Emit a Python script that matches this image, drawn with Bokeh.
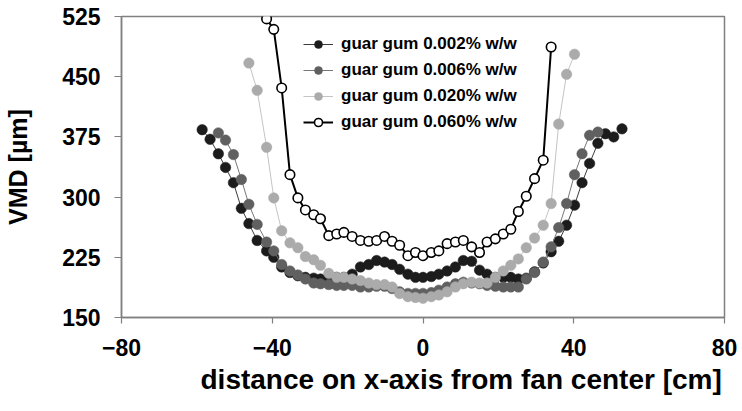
from bokeh.plotting import figure
from bokeh.models import Legend, LegendItem, FixedTicker, Range1d, ColumnDataSource, Title
from bokeh.embed import file_html
from bokeh.resources import INLINE

# distance on x-axis from fan center [cm]
x_002 = [-58.6, -56.5, -54.3, -52.4, -50.3, -48.2, -46.2, -44.0, -41.5, -39.6, -37.5, -35.3, -33.2,
         -31.2, -29.0, -27.2, -25.0, -22.9, -21.0, -18.8, -16.6, -14.4, -12.3, -10.2, -8.2, -6.2,
         -4.0, -2.0, 0.0, 2.2, 4.2, 6.4, 8.6, 10.7, 12.9, 15.0, 17.0, 19.2, 21.3, 23.3, 25.3, 27.4,
         29.6, 31.9, 34.0, 36.0, 38.1, 40.2, 42.2, 44.2, 46.4, 48.4, 50.6, 52.8]
vmd_002 = [384, 372, 354, 337, 318, 286, 267, 246, 233, 225, 213, 206, 202, 200, 199, 198, 199, 200,
           200, 204, 213, 216, 221, 219, 216, 210, 204, 200, 200, 201, 204, 208, 213, 221, 220, 209,
           204, 200, 200, 200, 198, 199, 207, 218, 232, 245, 265, 290, 318, 342, 367, 379, 375, 385]

x_006 = [-54.3, -52.4, -50.3, -48.2, -46.2, -44.0, -41.5, -39.6, -37.5, -35.3, -33.2, -31.2, -29.0,
         -27.2, -25.0, -22.9, -21.0, -18.8, -16.6, -14.4, -12.3, -10.2, -8.2, -6.2, -4.0, -2.0, 0.0,
         2.2, 4.2, 6.4, 8.6, 10.7, 12.9, 15.0, 17.0, 19.2, 21.3, 23.3, 25.3, 27.4, 29.6, 31.9, 34.0,
         36.0, 38.1, 40.2, 42.2, 44.2, 46.4]
vmd_006 = [380, 371, 353, 322, 291, 266, 244, 233, 216, 208, 203, 198, 193, 192, 191, 190, 190, 190,
           188, 188, 189, 189, 186, 182, 180, 180, 180, 181, 184, 188, 192, 194, 193, 192, 190, 189,
           188, 188, 188, 198, 206, 219, 238, 262, 292, 328, 354, 377, 381]

x_020 = [-46.2, -44.0, -41.5, -39.6, -37.5, -35.3, -33.2, -31.2, -29.0, -27.2, -25.0, -22.9, -21.0,
         -18.8, -16.6, -14.4, -12.3, -10.2, -8.2, -6.2, -4.0, -2.0, 0.0, 2.2, 4.2, 6.4, 8.6, 10.7,
         12.9, 15.0, 17.0, 19.2, 21.3, 23.3, 25.3, 27.4, 29.6, 31.9, 34.0, 36.0, 38.1, 40.2]
vmd_020 = [467, 433, 362, 299, 258, 243, 237, 226, 222, 215, 205, 200, 200, 198, 196, 193, 191, 191,
           188, 180, 176, 175, 174, 176, 178, 182, 188, 192, 194, 193, 193, 200, 208, 215, 223, 237,
           249, 265, 292, 391, 453, 478]

x_060 = [-41.5, -39.6, -37.5, -35.3, -33.2, -31.2, -29.0, -27.2, -25.0, -22.9, -21.0, -18.8, -16.6,
         -14.4, -12.3, -10.2, -8.2, -6.2, -4.0, -2.0, 0.0, 2.2, 4.2, 6.4, 8.6, 10.7, 12.9, 15.0, 17.0,
         19.2, 21.3, 23.3, 25.3, 27.4, 29.6, 31.9, 34.0]
vmd_060 = [522, 509, 436, 328, 299, 284, 278, 273, 252, 254, 256, 251, 246, 245, 246, 251, 245, 240,
           227, 231, 227, 231, 233, 242, 244, 246, 238, 231, 244, 248, 254, 260, 282, 301, 323, 346, 487]

labels = ["guar gum 0.002% w/w", "guar gum 0.006% w/w", "guar gum 0.020% w/w", "guar gum 0.060% w/w"]
x_ticks = [-80, -40, 0, 40, 80]
y_ticks = [150, 225, 300, 375, 450, 525]
x_title = "distance on x-axis from fan center [cm]"
y_title = "VMD [µm]"

FONT = "Liberation Sans"
AXIS_COL = "#808080"

p = figure(width=742, height=411, x_range=Range1d(-80, 80), y_range=Range1d(150, 525),
           output_backend="svg", toolbar_location=None,
           min_border_left=121, min_border_right=18, min_border_top=16, min_border_bottom=94)
p.grid.visible = False
p.outline_line_color = AXIS_COL
p.outline_line_width = 1.5
p.background_fill_color = "white"
p.border_fill_color = "white"

series = [
    (x_002, vmd_002, "#3a3a3a", 1.0, "#1c1c1c", "#1c1c1c", 10.5),
    (x_006, vmd_006, "#777777", 1.0, "#606060", "#606060", 10.5),
    (x_020, vmd_020, "#c4c4c4", 1.0, "#ababab", "#ababab", 10.5),
    (x_060, vmd_060, "#000000", 2.0, "white", "#000000", 9.5),
]

items = []
for (xs, ys, lc, lw, fc, mc, sz), lab in zip(series, labels):
    src = ColumnDataSource(dict(x=xs, y=ys))
    lr = p.line("x", "y", source=src, line_color=lc, line_width=lw)
    sr = p.scatter("x", "y", source=src, size=sz, fill_color=fc, line_color=mc,
                   line_width=1.6 if fc == "white" else 0.5)
    items.append(LegendItem(label=lab, renderers=[lr, sr]))

legend = Legend(items=items, location=(182, 185), orientation="vertical",
                border_line_alpha=0, background_fill_alpha=0, padding=0, margin=0,
                spacing=6, glyph_width=30, glyph_height=20, label_height=20, label_standoff=8,
                label_text_font=FONT, label_text_font_style="bold", label_text_font_size="17px",
                label_text_color="black")
p.add_layout(legend, "center")

for ax in (p.xaxis[0], p.yaxis[0]):
    ax.axis_line_color = AXIS_COL
    ax.axis_line_width = 1.5
    ax.major_tick_line_color = AXIS_COL
    ax.major_tick_line_width = 1.2
    ax.minor_tick_line_color = None
    ax.major_tick_in = 0
    ax.major_label_text_font = FONT
    ax.major_label_text_font_style = "bold"
    ax.major_label_text_font_size = "23px"
    ax.major_label_text_color = "black"
    ax.axis_label_text_font = FONT
    ax.axis_label_text_font_style = "bold"
    ax.axis_label_text_color = "black"

p.xaxis[0].ticker = FixedTicker(ticks=x_ticks)
p.yaxis[0].ticker = FixedTicker(ticks=y_ticks)
p.xaxis[0].major_tick_out = 6
p.yaxis[0].major_tick_out = 7
p.xaxis[0].major_label_standoff = 15
p.yaxis[0].major_label_standoff = 14
p.yaxis[0].axis_label = y_title
p.yaxis[0].axis_label_text_font_size = "25px"
p.yaxis[0].axis_label_standoff = 27

xt = Title(text=x_title, align="left", offset=79, standoff=6,
           text_font=FONT, text_font_style="bold", text_font_size="28px", text_color="black")
p.add_layout(xt, "below")

open("out.html", "w").write(file_html(p, INLINE))
